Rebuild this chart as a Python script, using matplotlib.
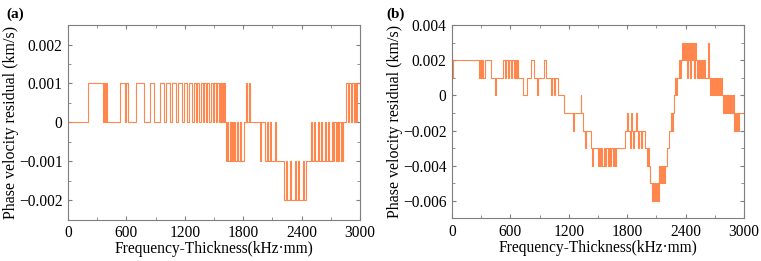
import matplotlib
matplotlib.use('Agg')
import matplotlib.pyplot as plt
from matplotlib.ticker import MultipleLocator, FuncFormatter
import numpy as np

plt.rcParams['font.family'] = ['Liberation Serif', 'DejaVu Serif']
plt.rcParams['axes.unicode_minus'] = True

# frequency-thickness sampled every 10 kHz·mm (0 ... 3000)
fd = np.arange(0, 3001, 10)

# residuals in units of 0.001 km/s, one row = 300 kHz·mm
res_a = [
    0, 0, 0, 0, 0, 0, 0, 0, 0, 0, 0, 0, 0, 0, 0, 0, 0, 0, 0, 0, 0, 1, 1, 1, 1, 1, 1, 1, 1, 1,
    1, 1, 1, 1, 1, 1, 0, 1, 0, 1, 0, 0, 0, 0, 0, 0, 0, 0, 0, 0, 0, 0, 0, 1, 1, 1, 1, 1, 1, 0,
    1, 1, 0, 0, 0, 0, 0, 0, 0, 0, 1, 1, 1, 1, 1, 1, 1, 1, 0, 0, 0, 0, 0, 0, 1, 1, 1, 1, 0, 0,
    0, 0, 0, 0, 1, 1, 1, 1, 1, 0, 0, 1, 1, 1, 1, 0, 0, 1, 1, 1, 1, 0, 0, 1, 1, 1, 1, 0, 0, 1,
    1, 1, 0, 0, 1, 1, 1, 0, 0, 1, 1, 0, 0, 1, 1, 0, 0, 1, 1, 0, 1, 1, 0, 1, 1, 0, 0, 1, 1, 0,
    1, 1, 0, 1, 1, 0, 1, 0, 1, 0, 1, 0, -1, 0, -1, -1, 0, -1, 0, -1, -1, 0, -1, -1, 0, -1, -1, 0, -1, -1,
    -1, 0, 0, 1, 0, 0, 1, 0, 0, 0, 0, 0, 0, 0, 0, 0, 0, -1, 0, 0, 0, 0, -1, -1, 0, -1, -1, -1, 0, -1,
    -1, -1, -1, 0, -1, -1, -1, -1, -1, -1, -1, -1, -2, -2, -1, -2, -2, -2, -1, -2, -2, -2, -2, -1, -2, -2, -1, -2, -2, -2,
    -2, -1, -2, -2, -2, -1, -1, -1, -1, -1, 0, -1, -1, 0, -1, -1, -1, 0, -1, -1, 0, -1, -1, -1, 0, -1, -1, 0, -1, -1,
    -1, 0, -1, 0, 0, -1, 0, -1, 0, 0, -1, 0, -1, 0, 0, 0, 1, 1, 0, 1, 1, 0, 1, 1, 0, 1, 0, 1, 1, 1,
    1,
]

res_b = [
    1, 2, 2, 2, 2, 2, 2, 2, 2, 2, 2, 2, 2, 2, 2, 2, 2, 2, 2, 2, 2, 2, 2, 2, 2, 2, 2, 2, 1, 2,
    1, 2, 1, 1, 2, 2, 2, 2, 2, 2, 1, 1, 1, 1, 0, 1, 1, 1, 1, 1, 1, 1, 2, 2, 1, 2, 2, 2, 1, 2,
    2, 1, 2, 2, 1, 2, 1, 2, 1, 1, 1, 1, 1, 0, 0, 0, 0, 1, 1, 1, 1, 2, 2, 2, 1, 1, 1, 0, 1, 1,
    1, 1, 1, 1, 1, 2, 2, 1, 1, 1, 1, 1, 0, 1, 1, 0, 1, 1, 1, 0, 0, 0, 0, 0, 0, -1, -1, -1, -1, -1,
    -1, -1, -1, -1, -2, -1, -1, -1, -1, -1, -1, -1, 0, -1, -1, -2, -2, -3, -2, -2, -2, -2, -2, -3, -4, -3, -3, -3, -3, -3,
    -4, -3, -4, -3, -4, -4, -3, -4, -3, -3, -4, -3, -4, -3, -3, -4, -3, -4, -3, -3, -3, -3, -3, -3, -3, -3, -3, -3, -2, -2,
    -1, -2, -2, -3, -1, -2, -3, -2, -2, -1, -2, -3, -2, -2, -3, -2, -2, -2, -3, -3, -4, -3, -4, -5, -5, -6, -5, -5, -6, -5,
    -6, -5, -6, -4, -5, -4, -5, -4, -5, -4, -4, -3, -3, -2, -2, -1, -2, -1, 0, 1, 0, 1, 1, 2, 1, 2, 3, 2, 3, 2,
    3, 1, 3, 2, 3, 1, 3, 2, 3, 1, 3, 2, 1, 2, 1, 2, 1, 2, 1, 2, 1, 1, 1, 3, 1, 0, 1, 0, 1, 0,
    1, 0, 1, 0, 1, 0, 1, 0, -1, 0, -1, 0, -1, 0, -1, 0, -1, 0, -1, 0, -2, -1, -2, -1, -2, -1, -1, -1, -1, -1,
    -1,
]

panels = ['(a)', '(b)']
ylims = [(-0.0025, 0.0025), (-0.007, 0.004)]
ymajor = [0.001, 0.002]
yminor = [0.0005, 0.001]

line_color = '#ff7a3a'
spine_color = '#7f7f7f'


def fmt(v, pos):
    if abs(v) < 1e-12:
        return '0'
    return ('%.3f' % v).replace('-', '\u2212')


fig = plt.figure(figsize=(7.61, 2.61), dpi=100)
ax_a = fig.add_axes([0.0894, 0.158, 0.3837, 0.746])
ax_b = fig.add_axes([0.594, 0.163, 0.3837, 0.741])

for i, (ax, res) in enumerate(zip([ax_a, ax_b], [res_a, res_b])):
    ax.plot(fd, np.array(res) * 0.001, drawstyle='steps-post',
            color=line_color, lw=0.8, alpha=0.9)
    ax.set_xlim(0, 3000)
    ax.set_ylim(*ylims[i])
    ax.xaxis.set_major_locator(MultipleLocator(600))
    ax.xaxis.set_minor_locator(MultipleLocator(300))
    ax.yaxis.set_major_locator(MultipleLocator(ymajor[i]))
    ax.yaxis.set_minor_locator(MultipleLocator(yminor[i]))
    ax.yaxis.set_major_formatter(FuncFormatter(fmt))
    ax.tick_params(which='both', direction='in', top=True, right=True,
                   color=spine_color, labelsize=11.2, pad=4)
    ax.tick_params(which='major', length=3)
    ax.tick_params(which='minor', length=2)
    for s in ax.spines.values():
        s.set_color(spine_color)
        s.set_linewidth(0.8)
    ax.set_xlabel('Frequency-Thickness(kHz\u00b7mm)', fontsize=11.2, labelpad=0)
    ax.set_ylabel('Phase velocity residual (km/s)', fontsize=11.5, labelpad=0)

fig.text(0.008, 0.93, panels[0], fontsize=11, fontweight='bold')
fig.text(0.508, 0.93, panels[1], fontsize=11, fontweight='bold')

plt.savefig('out.png', dpi=100)
